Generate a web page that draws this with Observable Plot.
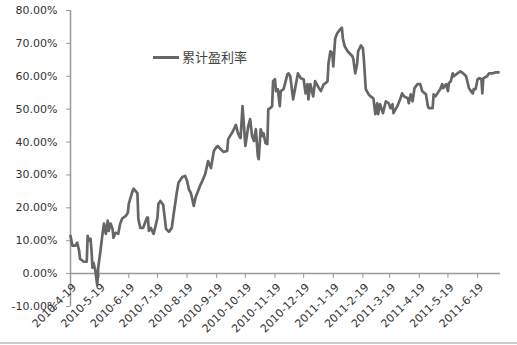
<!DOCTYPE html>
<html><head><meta charset="utf-8">
<script src="https://cdn.jsdelivr.net/npm/d3@7"></script>
<script src="https://cdn.jsdelivr.net/npm/@observablehq/plot@0.6"></script>
<style>
body{margin:0;background:#fff;}
#wrap{position:relative;width:517px;height:345px;overflow:hidden;background:#fff;}
#legend{position:absolute;left:153px;top:48px;display:flex;align-items:center;font-family:"Noto Sans CJK SC";font-size:13px;color:#444;line-height:18px;}
#legend .sw{display:inline-block;width:26px;height:3px;background:#666;margin-right:3px;}
#bottomline{position:absolute;left:0;top:342px;width:517px;height:2px;background:#ccc;}
#chart{position:absolute;left:0;top:0;}
</style></head><body>
<div id="wrap"><div id="chart"></div><div id="legend"><span class="sw"></span><span id="legtext"></span></div><div id="bottomline"></div></div>
<script>
const seriesName = "累计盈利率";
const dates = [
"2010-04-19","2010-04-21","2010-04-24","2010-04-26","2010-04-28","2010-04-29","2010-05-03","2010-05-06","2010-05-07","2010-05-08",
"2010-05-10","2010-05-11","2010-05-12","2010-05-13","2010-05-15","2010-05-17","2010-05-18","2010-05-20","2010-05-22","2010-05-24",
"2010-05-26","2010-05-28","2010-05-29","2010-05-31","2010-06-02","2010-06-03","2010-06-05","2010-06-08","2010-06-10","2010-06-12",
"2010-06-16","2010-06-18","2010-06-19","2010-06-23","2010-06-24","2010-06-28","2010-06-29","2010-07-01","2010-07-04","2010-07-08",
"2010-07-09","2010-07-10","2010-07-12","2010-07-15","2010-07-17","2010-07-19","2010-07-20","2010-07-22","2010-07-25","2010-07-28",
"2010-07-31","2010-08-03","2010-08-05","2010-08-07","2010-08-08","2010-08-10","2010-08-14","2010-08-17","2010-08-19","2010-08-21",
"2010-08-23","2010-08-26","2010-08-28","2010-08-31","2010-09-02","2010-09-04","2010-09-07","2010-09-10","2010-09-13","2010-09-16",
"2010-09-18","2010-09-20","2010-09-23","2010-09-26","2010-09-30","2010-10-01","2010-10-06","2010-10-09","2010-10-11","2010-10-13",
"2010-10-14","2010-10-16","2010-10-17","2010-10-19","2010-10-22","2010-10-24","2010-10-26","2010-10-28","2010-10-30","2010-11-01",
"2010-11-02","2010-11-04","2010-11-06","2010-11-07","2010-11-09","2010-11-11","2010-11-12","2010-11-14","2010-11-16","2010-11-17",
"2010-11-19","2010-11-20","2010-11-22","2010-11-24","2010-11-25","2010-11-28","2010-12-02","2010-12-03","2010-12-05","2010-12-08",
"2010-12-13","2010-12-16","2010-12-19","2010-12-21","2010-12-23","2010-12-24","2010-12-26","2010-12-29","2010-12-31","2011-01-04",
"2011-01-06","2011-01-09","2011-01-11","2011-01-13","2011-01-14","2011-01-16","2011-01-18","2011-01-19","2011-01-21","2011-01-23",
"2011-01-26","2011-01-28","2011-01-29","2011-01-31","2011-02-03","2011-02-06","2011-02-08","2011-02-09","2011-02-11","2011-02-13",
"2011-02-14","2011-02-17","2011-02-19","2011-02-20","2011-02-22","2011-02-25","2011-02-27","2011-03-02","2011-03-04","2011-03-06",
"2011-03-07","2011-03-09","2011-03-12","2011-03-15","2011-03-18","2011-03-20","2011-03-22","2011-03-23","2011-03-27","2011-03-30",
"2011-04-01","2011-04-03","2011-04-07","2011-04-08","2011-04-10","2011-04-12","2011-04-14","2011-04-17","2011-04-20","2011-04-22",
"2011-04-26","2011-04-28","2011-04-29","2011-05-03","2011-05-04","2011-05-06","2011-05-08","2011-05-11","2011-05-13","2011-05-14",
"2011-05-17","2011-05-19","2011-05-20","2011-05-22","2011-05-24","2011-05-25","2011-05-29","2011-06-01","2011-06-04","2011-06-07",
"2011-06-10","2011-06-12","2011-06-14","2011-06-15","2011-06-17","2011-06-19","2011-06-21","2011-06-23","2011-06-24","2011-06-25",
"2011-06-29","2011-07-01","2011-07-05","2011-07-08","2011-07-11"
];
const values = [
11.5,8.5,8.5,9.4,7.0,4.5,3.6,3.6,11.5,10.0,
10.6,7.0,1.8,3.3,0.9,-3.6,1.8,6.1,10.9,15.2,
12.1,16.1,13.0,15.2,13.6,10.9,12.4,12.1,15.2,16.7,
17.6,18.5,21.2,25.2,25.8,24.5,16.7,13.9,13.9,17.0,
17.0,13.0,13.9,12.1,14.5,17.0,21.2,22.1,20.9,13.6,
12.7,13.9,18.2,22.1,24.2,27.6,29.4,29.7,28.2,25.5,
24.5,20.6,23.3,25.5,27.0,28.2,30.3,34.2,32.1,37.3,
38.2,38.8,37.9,37.0,37.3,40.9,43.3,45.2,43.0,41.5,
41.2,50.9,47.0,38.8,44.8,47.0,41.8,40.3,43.9,35.8,
34.8,43.9,41.8,42.7,39.7,39.4,50.0,50.3,50.9,58.5,
59.1,55.5,56.1,50.9,55.5,56.1,60.6,60.9,60.0,53.0,
60.9,59.4,59.1,54.8,57.6,53.0,57.6,53.9,58.5,56.4,
55.5,57.6,57.9,58.5,63.9,67.6,67.0,63.0,71.5,73.0,
74.2,74.8,71.5,69.1,67.6,66.7,66.1,65.2,60.9,63.9,
67.6,69.4,68.5,65.2,56.1,54.5,53.9,53.3,48.5,51.8,
48.5,51.5,48.8,52.4,51.8,50.3,51.5,48.8,50.9,53.0,
54.8,53.9,53.3,51.8,54.5,52.4,56.4,57.6,57.6,55.5,
54.5,50.9,50.3,50.3,54.5,53.9,54.8,56.1,57.6,56.4,
57.6,55.5,57.9,58.5,60.9,60.0,60.9,61.5,60.9,60.0,
56.4,55.5,54.8,56.1,56.1,59.1,59.4,59.1,54.8,59.4,
60.0,60.9,60.9,61.2,61.2
];
const tickDates = ["2010-04-19","2010-05-19","2010-06-19","2010-07-19","2010-08-19","2010-09-19","2010-10-19","2010-11-19","2010-12-19","2011-01-19","2011-02-19","2011-03-19","2011-04-19","2011-05-19","2011-06-19"];
const tickLabels = ["2010-4-19","2010-5-19","2010-6-19","2010-7-19","2010-8-19","2010-9-19","2010-10-19","2010-11-19","2010-12-19","2011-1-19","2011-2-19","2011-3-19","2011-4-19","2011-5-19","2011-6-19"];
const yTicks = [-10,0,10,20,30,40,50,60,70,80];
const xStart = "2010-04-19", xEnd = "2011-07-13";

const parse = d3.utcParse("%Y-%m-%d");
const data = dates.map((d, i) => ({date: parse(d), value: values[i]}));
const tickMap = new Map(tickDates.map((d, i) => [+parse(d), tickLabels[i]]));
document.getElementById("legtext").textContent = seriesName;

const chart = Plot.plot({
  width: 517, height: 345,
  marginLeft: 70, marginRight: 17, marginTop: 10, marginBottom: 39,
  style: {fontFamily: "DejaVu Sans", fontSize: "11px", color: "#333", background: "transparent", overflow: "visible"},
  x: {type: "utc", domain: [parse(xStart), parse(xEnd)]},
  y: {domain: [-10, 80]},
  marks: [
    Plot.ruleY([0], {stroke: "#999", strokeWidth: 1.5}),
    Plot.ruleX([parse(xStart)], {stroke: "#999", strokeWidth: 1.5}),
    Plot.axisY({ticks: yTicks, tickSize: 4, tickPadding: 9, tickFormat: d => d.toFixed(2) + "%", stroke: "#999", label: null}),
    Plot.axisX({ticks: tickDates.map(parse), anchor: "bottom", tickSize: 5, dy: -33,
      tickFormat: () => "", label: null, stroke: "#999"}),
    Plot.axisX({ticks: tickDates.map(parse), anchor: "bottom", tickSize: 0, tickPadding: 12, tickRotate: -45, dy: -33, dx: 4,
      tickFormat: d => tickMap.get(+d), label: null}),
    Plot.lineY(data, {x: "date", y: "value", stroke: "#666", strokeWidth: 2.7, strokeLinejoin: "round"})
  ]
});
document.getElementById("chart").appendChild(chart);
</script>
</body></html>
